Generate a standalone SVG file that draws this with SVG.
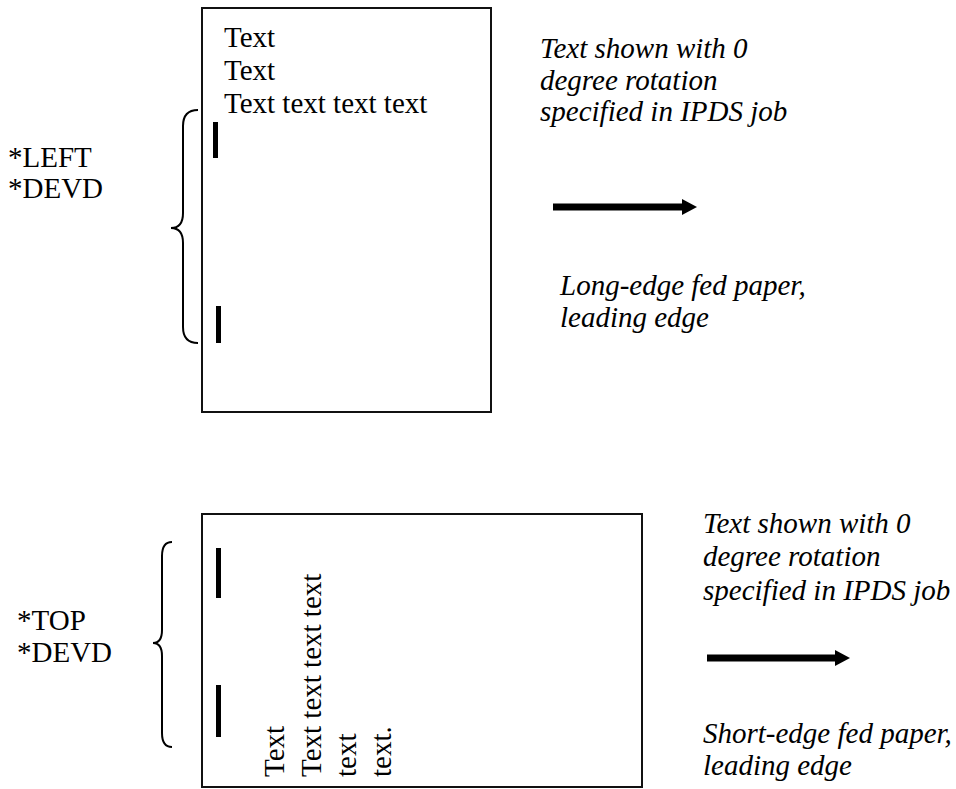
<svg xmlns="http://www.w3.org/2000/svg" width="956" height="789" viewBox="0 0 956 789">
<style>
.t{font-family:"Liberation Serif","Times New Roman",serif;font-size:29px;fill:#000}
.i{font-style:italic}
.box{fill:#fff;stroke:#111;stroke-width:2}
.bar{fill:#000}
.brace{fill:none;stroke:#000;stroke-width:2}
</style>
<rect width="956" height="789" fill="#fff"/>
<g id="page-top">
<rect class="box" x="202" y="8" width="289" height="404"/>
<text class="t" x="224" y="47">Text</text>
<text class="t" x="224" y="80">Text</text>
<text class="t" x="224" y="113">Text text text text</text>
<rect class="bar" x="213" y="122" width="5" height="36"/>
<rect class="bar" x="216" y="306" width="5" height="37"/>
</g>
<g id="label-top">
<path class="brace" d="M198,110 Q183,110 183,126 L183,213 Q183,228 171,228 Q183,228 183,243 L183,327 Q183,343 198,343"/>
<text class="t" x="8" y="167">*LEFT</text>
<text class="t" x="8" y="198">*DEVD</text>
</g>
<g id="note-top">
<text class="t i" x="540" y="58">Text shown with 0</text>
<text class="t i" x="540" y="90">degree rotation</text>
<text class="t i" x="540" y="121">specified in IPDS job</text>
<text class="t i" x="560" y="295">Long-edge fed paper,</text>
<text class="t i" x="560" y="327">leading edge</text>
</g>
<g id="page-bottom">
<rect class="box" x="202" y="514" width="440" height="273"/>
<rect class="bar" x="216" y="548" width="5" height="50"/>
<rect class="bar" x="216" y="685" width="5" height="52"/>
<text class="t" transform="translate(284,777) rotate(-90)">Text</text>
<text class="t" transform="translate(321,777) rotate(-90)">Text text text text</text>
<text class="t" transform="translate(356,777) rotate(-90)">text</text>
<text class="t" transform="translate(391,777) rotate(-90)">text.</text>
</g>
<g id="label-bottom">
<path class="brace" d="M172,542 Q162,542 162,556 L162,630 Q162,643 153,643 Q162,643 162,656 L162,733 Q162,747 172,747"/>
<text class="t" x="17" y="630">*TOP</text>
<text class="t" x="17" y="662">*DEVD</text>
</g>
<g id="note-bottom">
<text class="t i" x="703" y="533">Text shown with 0</text>
<text class="t i" x="703" y="566">degree rotation</text>
<text class="t i" x="703" y="600">specified in IPDS job</text>
<text class="t i" x="703" y="743">Short-edge fed paper,</text>
<text class="t i" x="703" y="775">leading edge</text>
</g>
<g id="connectors">
<path d="M553,203.5 L682,203.5 L682,199 L697,207 L682,215 L682,210.5 L553,210.5 Z" fill="#000"/>
<path d="M707,654.5 L835,654.5 L835,650 L850,658 L835,666 L835,661.5 L707,661.5 Z" fill="#000"/>
</g>
</svg>
